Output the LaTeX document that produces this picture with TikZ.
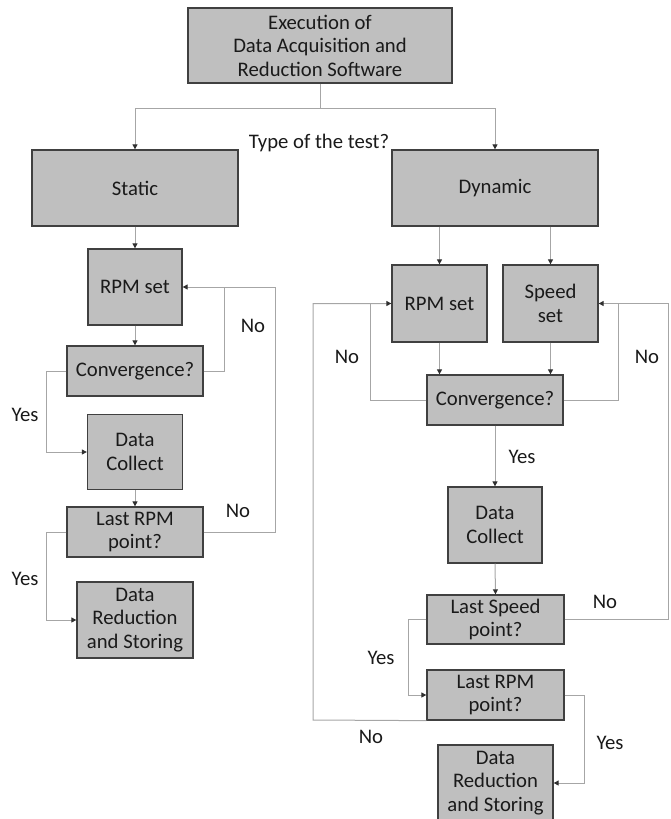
\documentclass[tikz,border=0pt]{standalone}
\usepackage{fontspec}
\setmainfont{Carlito}
\usetikzlibrary{arrows.meta}
\definecolor{boxfill}{HTML}{BFBFBF}
\definecolor{boxline}{HTML}{404040}
\definecolor{linegray}{HTML}{A6A6A6}
\definecolor{arrowc}{HTML}{303030}
\definecolor{txt}{HTML}{1A1A1A}
\tikzset{
  flowbox/.style={rectangle, draw=boxline, fill=boxfill, line width=1.3pt,
    align=center, inner sep=0pt, text=txt, font=\fontsize{20.7}{23.5}\selectfont},
  conn/.style={draw=linegray, line width=1pt},
  arr/.style={conn, -{Triangle[length=5pt,width=5pt,color=arrowc]}},
  lbl/.style={text=txt, font=\fontsize{20.7}{24}\selectfont, inner sep=0pt}
}
\begin{document}
\begin{tikzpicture}[x=1pt,y=-1pt]
\useasboundingbox (0,0) rectangle (670,819);
% nodes
\node[flowbox, minimum width=264, minimum height=75] (top) at (320,45.5) {Execution of\\Data Acquisition and\\Reduction Software};
\node[flowbox, minimum width=206, minimum height=76] (static) at (135,188) {Static};
\node[flowbox, minimum width=206, minimum height=76] (dynamic) at (495,188) {Dynamic};
\node[lbl] (type) at (319,143) {Type of the test?};
% static branch
\node[flowbox, minimum width=94, minimum height=76] (sRPM) at (135,287) {RPM set};
\node[flowbox, minimum width=136, minimum height=50] (sConv) at (135,371) {Convergence?};
\node[flowbox, minimum width=95, minimum height=75] (sDC) at (135,452) {Data\\Collect};
\node[flowbox, minimum width=136, minimum height=50] (sLast) at (135,532) {Last RPM\\point?};
\node[flowbox, minimum width=116, minimum height=76] (sRed) at (135,620) {Data\\Reduction\\and Storing};
% dynamic branch
\node[flowbox, minimum width=95, minimum height=77] (dRPM) at (439.5,303.5) {RPM set};
\node[flowbox, minimum width=95, minimum height=77] (dSpeed) at (550.5,303.5) {Speed\\set};
\node[flowbox, minimum width=136, minimum height=50] (dConv) at (495,400) {Convergence?};
\node[flowbox, minimum width=94, minimum height=76] (dDC) at (495,525) {Data\\Collect};
\node[flowbox, minimum width=137, minimum height=49] (dLastS) at (495.5,619.5) {Last Speed\\point?};
\node[flowbox, minimum width=137, minimum height=50] (dLastR) at (495.5,695) {Last RPM\\point?};
\node[flowbox, minimum width=115, minimum height=76] (dRed) at (495.5,783) {Data\\Reduction\\and Storing};
% coordinates
\coordinate (split) at (320,108);
\coordinate (sNoA) at (224,287);
\coordinate (sNoB) at (275,287);
\coordinate (sYesA) at (46,371);
\coordinate (sYesB) at (46,532);
\coordinate (dNoL) at (370,303.5);
\coordinate (dNoR) at (618,303.5);
\coordinate (dOutL) at (313,720);
\coordinate (dOutR) at (668,619.5);
\coordinate (dYesA) at (408,619.5);
\coordinate (dYesB) at (584,695);
% top connectors
\draw[conn] (top.south) -- (split);
\draw[arr] (split) -| (static.north);
\draw[arr] (split) -| (dynamic.north);
% static connectors
\draw[arr] (static.south) -- (sRPM.north);
\draw[arr] (sRPM.south) -- (sConv.north);
\draw[conn] (sConv.east) -| (sNoA);
\draw[arr] (sLast.east) -| (sNoB) -- (sRPM.east);
\draw[arr] (sConv.west) -- (sYesA) |- (sDC.west);
\draw[arr] (sDC.south) -- (sLast.north);
\draw[arr] (sLast.west) -- (sYesB) |- (sRed.west);
% dynamic connectors
\draw[arr] (dynamic.south -| dRPM.north) -- (dRPM.north);
\draw[arr] (dynamic.south -| dSpeed.north) -- (dSpeed.north);
\draw[arr] (dRPM.south) -- (dRPM.south |- dConv.north);
\draw[arr] (dSpeed.south) -- (dSpeed.south |- dConv.north);
\draw[conn] (dConv.west) -| (dNoL);
\draw[conn] (dConv.east) -| (dNoR);
\draw[arr] (dLastR.south west) -- (dOutL) |- (dRPM.west);
\draw[arr] (dLastS.east) -- (dOutR) |- (dSpeed.east);
\draw[arr] (dConv.south) -- (dDC.north);
\draw[arr] (dDC.south) -- (dLastS.north);
\draw[arr] (dLastS.west) -- (dYesA) |- (dLastR.west);
\draw[arr] (dLastR.east) -- (dYesB) |- (dRed.east);
% labels
\node[lbl] (l1) at (253,326) {No};
\node[lbl] (l2) at (238,511) {No};
\node[lbl] (l3) at (25,415) {Yes};
\node[lbl] (l4) at (25,579) {Yes};
\node[lbl] (l5) at (347,357) {No};
\node[lbl] (l6) at (647,357) {No};
\node[lbl] (l7) at (522,457) {Yes};
\node[lbl] (l8) at (605,602) {No};
\node[lbl] (l9) at (381,658) {Yes};
\node[lbl] (l10) at (371,737) {No};
\node[lbl] (l11) at (610,743) {Yes};
\end{tikzpicture}
\end{document}
